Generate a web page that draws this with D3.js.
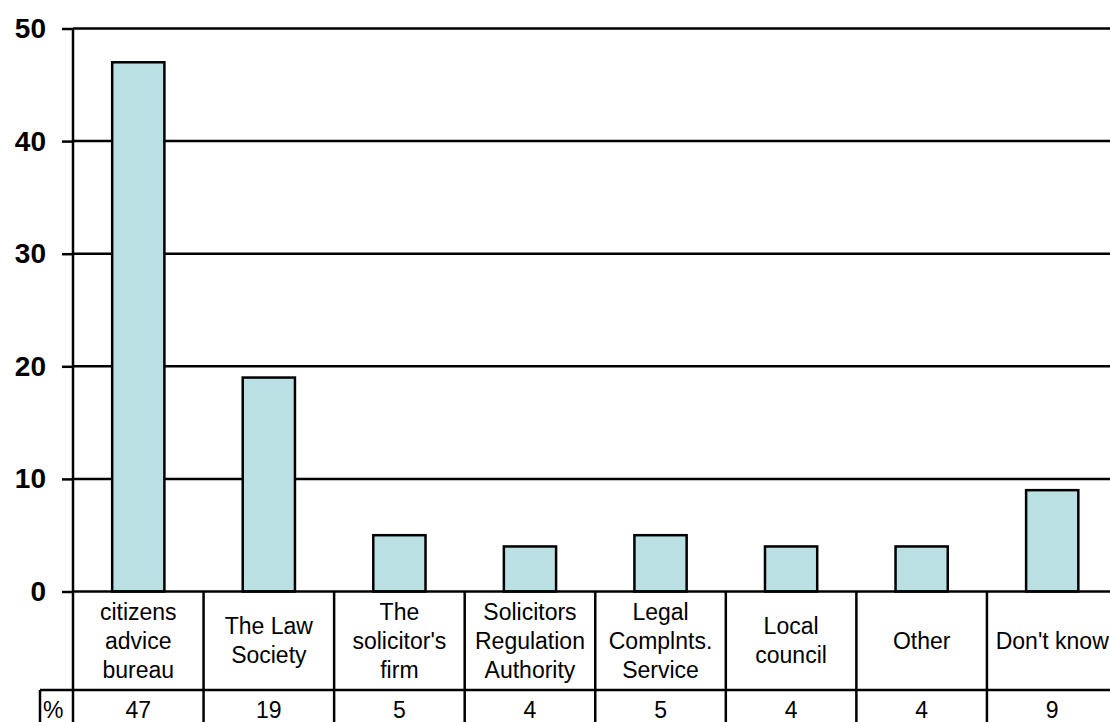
<!DOCTYPE html>
<html>
<head>
<meta charset="utf-8">
<script src="https://cdn.jsdelivr.net/npm/d3@7"></script>
<style>
  body { margin: 0; background: #fff; }
  svg { display: block; font-family: "Liberation Sans", Arial, sans-serif; }
</style>
</head>
<body>
<div id="chart"></div>
<script>
'use strict';
// categories and values
var categories = ['cab', 'law', 'firm', 'sra', 'lcs', 'council', 'other', 'dk'];
var labels = [
    ['citizens', 'advice', 'bureau'],
    ['The Law', 'Society'],
    ['The', "solicitor's", 'firm'],
    ['Solicitors', 'Regulation', 'Authority'],
    ['Legal', 'Complnts.', 'Service'],
    ['Local', 'council'],
    ['Other'],
    ["Don't know"]
];
var values = [47, 19, 5, 4, 5, 4, 4, 9];
var yTicks = [0, 10, 20, 30, 40, 50];
var rowLabel = '%';

var width = 1110,
    height = 722;
var plotLeft = 73,
    plotRight = 1117.5,
    plotTop = 28.5,
    plotBottom = 591.5,
    row1 = 690,
    row2 = 730,
    pctLeft = 40;

var svg = d3.select('#chart').append('svg')
    .attr('width', width)
    .attr('height', height);

var x = d3.scaleBand().domain(categories).range([plotLeft, plotRight]).padding(0);
var bar = d3.scaleBand().domain(categories).range([plotLeft, plotRight]).paddingInner(0.6).paddingOuter(0.3);
var y = d3.scaleLinear().domain([0, 50]).range([plotBottom, plotTop]);

// gridlines
svg.append('g').selectAll('line').data(yTicks.filter(function (t) { return t > 0; }))
    .enter().append('line')
    .attr('x1', plotLeft).attr('x2', plotRight)
    .attr('y1', function (d) { return y(d); })
    .attr('y2', function (d) { return y(d); })
    .attr('stroke', '#000').attr('stroke-width', 2.5);

// bars
svg.append('g').selectAll('rect').data(values)
    .enter().append('rect')
    .attr('x', function (d, i) { return bar(categories[i]); })
    .attr('width', bar.bandwidth())
    .attr('y', function (d) { return y(d); })
    .attr('height', function (d) { return y(0) - y(d); })
    .attr('fill', '#bbe0e3')
    .attr('stroke', '#000').attr('stroke-width', 2.5);

// y axis
var yAxis = svg.append('g')
    .attr('transform', 'translate(' + plotLeft + ',0)')
    .call(d3.axisLeft(y).tickValues(yTicks).tickSize(11).tickPadding(16).tickFormat(d3.format('d')));
yAxis.select('.domain').remove();
yAxis.selectAll('.tick line').attr('stroke', '#000').attr('stroke-width', 2.5);
yAxis.selectAll('.tick text')
    .attr('fill', '#000')
    .style('font-size', '28px')
    .style('font-weight', 'bold')
    .style('font-family', '"Liberation Sans", Arial, sans-serif');

// table lines
var table = svg.append('g').attr('stroke', '#000').attr('stroke-width', 2.5);
table.append('line').attr('x1', plotLeft).attr('x2', plotRight).attr('y1', plotBottom).attr('y2', plotBottom);
table.append('line').attr('x1', pctLeft).attr('x2', plotRight).attr('y1', row1).attr('y2', row1);
table.append('line').attr('x1', plotLeft).attr('x2', plotLeft).attr('y1', plotTop).attr('y2', row2 + 10);
table.append('line').attr('x1', pctLeft).attr('x2', pctLeft).attr('y1', row1).attr('y2', row2 + 10);
table.selectAll('line.div').data(categories)
    .enter().append('line')
    .attr('class', 'div')
    .attr('x1', function (d) { return x(d) + x.bandwidth(); })
    .attr('x2', function (d) { return x(d) + x.bandwidth(); })
    .attr('y1', plotBottom).attr('y2', row2 + 10);

// category labels
var lineH = 29;
var cells = svg.append('g').selectAll('text.cat').data(labels)
    .enter().append('text')
    .attr('class', 'cat')
    .attr('text-anchor', 'middle')
    .style('font-size', '23px')
    .attr('fill', '#000');
cells.each(function (lines, i) {
    var cx = x(categories[i]) + x.bandwidth() / 2;
    var cy = (plotBottom + row1) / 2 - (lines.length - 1) * lineH / 2;
    d3.select(this).selectAll('tspan').data(lines)
        .enter().append('tspan')
        .attr('x', cx)
        .attr('y', function (d, j) { return cy + j * lineH; })
        .attr('dy', '0.35em')
        .text(function (d) { return d; });
});

// value row
svg.append('g').selectAll('text.val').data(values)
    .enter().append('text')
    .attr('class', 'val')
    .attr('x', function (d, i) { return x(categories[i]) + x.bandwidth() / 2; })
    .attr('y', (row1 + row2) / 2)
    .attr('dy', '0.35em')
    .attr('text-anchor', 'middle')
    .style('font-size', '23px')
    .text(function (d) { return d; });

svg.append('text')
    .attr('x', pctLeft + 3)
    .attr('y', (row1 + row2) / 2)
    .attr('dy', '0.35em')
    .style('font-size', '23px')
    .text(rowLabel);
</script>
</body>
</html>
